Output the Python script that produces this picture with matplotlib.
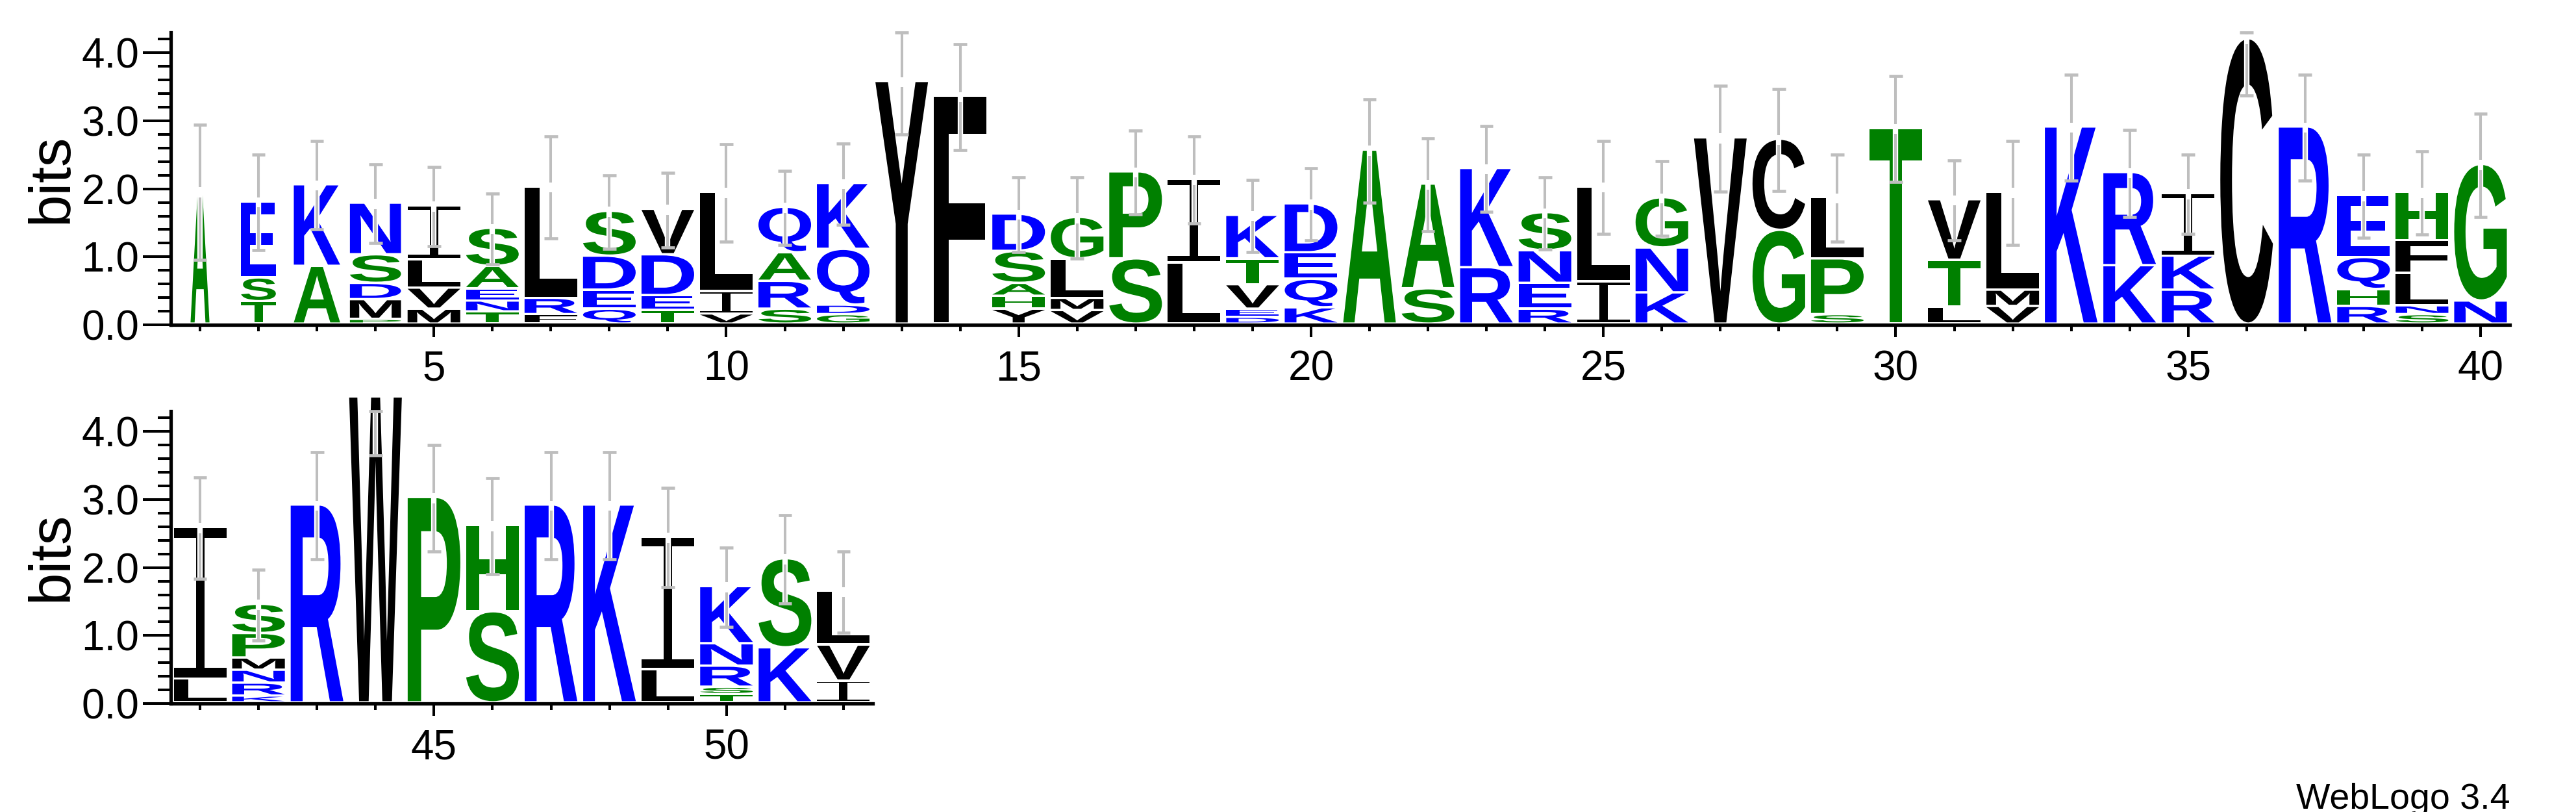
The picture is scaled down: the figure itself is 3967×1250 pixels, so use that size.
import numpy as np
import matplotlib
matplotlib.use('Agg')
import matplotlib.pyplot as plt
from matplotlib.textpath import TextPath
from matplotlib.font_manager import FontProperties
from matplotlib.patches import PathPatch
from matplotlib.path import Path
from matplotlib.transforms import Affine2D

# sequence positions and letter stacks (bottom -> top)
positions = list(range(1, 53))
stack_letters = ["A", "TSE", "AK", "PMDSN", "MVLI", "TNEAS", "FRL", "QEDS", "TEDV", "VIL",
                 "SRAQ", "GDQK", "Y", "F", "YHASD", "VMLG", "SP", "LI", "DEVTK", "KQED",
                 "A", "SA", "RK", "RENS", "IL", "KNG", "V", "GC", "SPL", "T",
                 "LTV", "VML", "K", "KR", "RKI", "C", "R", "RHQE", "SNLFH", "NG",
                 "LI", "KRNMPS", "R", "W", "P", "SH", "R", "K", "LI", "TSRNK",
                 "KS", "IVL"]
stack_heights = [
    [1.95], [0.33, 0.35, 1.12], [0.85, 1.20], [0.07, 0.29, 0.24, 0.42, 0.76],
    [0.22, 0.31, 0.42, 0.79], [0.18, 0.16, 0.18, 0.33, 0.56], [0.14, 0.24, 1.64],
    [0.22, 0.28, 0.50, 0.66], [0.20, 0.22, 0.60, 0.67], [0.15, 0.33, 1.46],
    [0.22, 0.41, 0.42, 0.67], [0.14, 0.14, 0.82, 0.97], [3.57], [3.35],
    [0.22, 0.19, 0.19, 0.47, 0.55], [0.20, 0.18, 0.58, 0.61], [0.96, 1.28],
    [0.90, 1.23], [0.10, 0.12, 0.36, 0.38, 0.64], [0.24, 0.42, 0.39, 0.72],
    [2.56], [0.52, 1.54], [0.83, 1.46], [0.22, 0.38, 0.48, 0.56], [0.62, 1.40],
    [0.46, 0.66, 0.74], [2.74], [1.38, 1.34], [0.14, 0.82, 0.90], [2.88],
    [0.25, 0.69, 0.89], [0.26, 0.24, 1.44], [2.90], [0.86, 1.37], [0.50, 0.50, 0.92],
    [4.20], [2.90], [0.26, 0.25, 0.47, 0.91], [0.14, 0.13, 0.48, 0.48, 0.71],
    [0.34, 2.01], [0.35, 2.23], [0.10, 0.19, 0.19, 0.18, 0.36, 0.43], [2.91],
    [4.50], [3.02], [1.34, 1.27], [2.91], [2.91], [0.49, 1.95],
    [0.12, 0.11, 0.31, 0.33, 0.84], [0.81, 1.31], [0.32, 0.53, 0.79],
]
errors = [0.99, 0.70, 0.65, 0.58, 0.58, 0.52, 0.75, 0.54, 0.55, 0.72,
          0.54, 0.60, 0.77, 0.78, 0.55, 0.60, 0.62, 0.64, 0.53, 0.53,
          0.76, 0.68, 0.63, 0.53, 0.68, 0.55, 0.78, 0.75, 0.64, 0.78,
          0.59, 0.76, 0.78, 0.64, 0.58, 0.83, 0.78, 0.61, 0.61, 0.76,
          0.75, 0.52, 0.79, 0.85, 0.78, 0.71, 0.79, 0.79, 0.73, 0.58,
          0.65, 0.60]
stack_widths = [0.36, 0.66, 0.88, 0.97] + [1.0] * 48

ymax = 4.3
colors = {}
for c in "RKDENQ":
    colors[c] = "#0000ff"
for c in "SGHTAP":
    colors[c] = "#008000"
for c in "YVMCLFIW":
    colors[c] = "#000000"

fp = FontProperties(family="Liberation Sans", weight="bold")
tick_font = "Liberation Sans"


def glyph(ch):
    if ch == "I":
        s, a, b = 0.065, 0.42, 0.58
        verts = [(0, 0), (1, 0), (1, s), (b, s), (b, 1 - s), (1, 1 - s), (1, 1),
                 (0, 1), (0, 1 - s), (a, 1 - s), (a, s), (0, s), (0, 0)]
        codes = [Path.MOVETO] + [Path.LINETO] * 11 + [Path.CLOSEPOLY]
        return Path(verts, codes)
    return TextPath((0, 0), ch, size=1, prop=fp)


def draw_letter(ax, ch, x, y0, h, w):
    p = glyph(ch)
    bb = p.get_extents()
    tr = Affine2D().translate(-bb.x0, -bb.y0).scale(w / bb.width, h / bb.height).translate(x - w / 2, y0)
    ax.add_patch(PathPatch(tr.transform_path(p), fc=colors[ch], ec="none", lw=0, clip_on=False, zorder=2))


def draw_stack(ax, i):
    x = positions[i]
    w = 0.9 * stack_widths[i]
    y = 0.0
    for ch, h in zip(stack_letters[i], stack_heights[i]):
        pad = 0.035
        draw_letter(ax, ch, x, y + pad, h - pad, w)
        y += h
    # error bar
    c = y
    e = errors[i]
    lo = max(c - e, 0)
    hi = min(c + e, ymax)
    g = 0.075
    ax.plot([x, x], [lo, hi], color="white", lw=6.0, solid_capstyle="butt", zorder=3, clip_on=False)
    if hi > c + g:
        ax.plot([x, x], [c + g, hi], color="#bebebe", lw=2.9, solid_capstyle="butt", zorder=4, clip_on=False)
    ax.plot([x, x], [min(c - g, hi), lo], color="#bebebe", lw=2.9, solid_capstyle="butt", zorder=4, clip_on=False)
    ax.plot([x - 0.115, x + 0.115], [hi, hi], color="#bebebe", lw=3.4, solid_capstyle="butt", zorder=4, clip_on=False)
    ax.plot([x - 0.115, x + 0.115], [lo, lo], color="#bebebe", lw=3.4, solid_capstyle="butt", zorder=4, clip_on=False)


def style_axis(ax, first, last):
    ax.set_xlim(first - 0.5, last + 0.5)
    ax.set_ylim(0, ymax)
    for s in ["top", "right"]:
        ax.spines[s].set_visible(False)
    for s in ["left", "bottom"]:
        ax.spines[s].set_linewidth(3.8)
    major = [p for p in range(first, last + 1) if p % 5 == 0]
    ax.set_xticks(major)
    ax.set_xticks(range(first, last + 1), minor=True)
    ax.set_xticklabels([str(p) for p in major], fontsize=46, family=tick_font)
    ax.set_yticks([0, 1, 2, 3, 4])
    ax.set_yticklabels(["0.0", "1.0", "2.0", "3.0", "4.0"], fontsize=46, family=tick_font)
    ax.set_yticks(np.arange(0, 4.3, 0.2), minor=True)
    ax.tick_params(axis="x", which="major", length=14, width=2.9, pad=14, direction="out")
    ax.tick_params(axis="x", which="minor", length=7, width=2.9, direction="out")
    ax.tick_params(axis="y", which="major", length=31, width=2.9, pad=4, direction="out")
    ax.tick_params(axis="y", which="minor", length=14.4, width=2.9, direction="out")


fig = plt.figure(figsize=(39.67, 12.5), dpi=100)
ax1 = fig.add_axes([263 / 3967, 750 / 1250, 3602 / 3967, 450 / 1250])
ax2 = fig.add_axes([263 / 3967, 167 / 1250, 1081 / 3967, 450 / 1250])

for i in range(40):
    draw_stack(ax1, i)
for i in range(40, 52):
    draw_stack(ax2, i)

style_axis(ax1, 1, 40)
style_axis(ax2, 41, 52)

fig.text(80 / 3967, 1 - 275 / 1250, "bits", rotation=90, ha="center", va="center", fontsize=64, family=tick_font)
fig.text(80 / 3967, 1 - 857 / 1250, "bits", rotation=90, ha="center", va="center", fontsize=64, family=tick_font)
fig.text(3865 / 3967, 5 / 1250, "WebLogo 3.4", ha="right", va="baseline", fontsize=40, family=tick_font)

fig.savefig("out.png", dpi=100)
